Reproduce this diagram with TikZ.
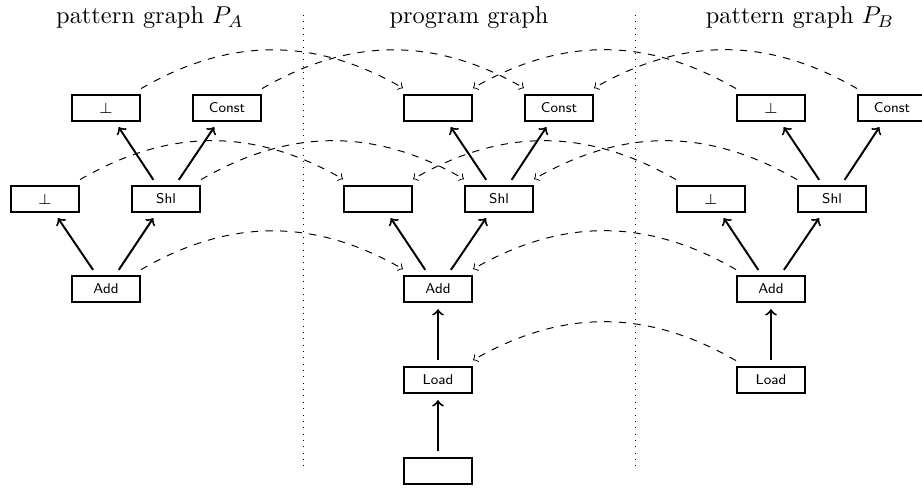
\documentclass[tikz,border=0pt]{standalone}
\begin{document}
\begin{tikzpicture}[x=0.41pt,y=-0.41pt,
  box/.style={draw, line width=0.8pt, minimum width=27.9pt, minimum height=10.7pt, inner sep=0pt,
    font=\sffamily\fontsize{5.8}{6.5}\selectfont},
  arr/.style={->, line width=0.8pt, shorten <=2.5pt, shorten >=2.5pt},
  mapl/.style={->, dashed, line width=0.4pt, bend left=30},
  mapr/.style={->, dashed, line width=0.4pt, bend right=30},
  sep/.style={line width=0.4pt, dash pattern=on 0.4pt off 2.2pt},
  ttl/.style={anchor=base}]
\useasboundingbox (0,0) rectangle (922,488);
% titles
\node[ttl] (tA) at (150,24) {pattern graph $P_A$};
\node[ttl] (tP) at (469,24) {program graph};
\node[ttl] (tB) at (800,24) {pattern graph $P_B$};
% separators
\coordinate (s1a) at (303,15); \coordinate (s1b) at (303,470);
\coordinate (s2a) at (635,15); \coordinate (s2b) at (635,470);
\draw[sep] (s1a) -- (s1b);
\draw[sep] (s2a) -- (s2b);
% left pattern
\node[box] (aBotT) at (106,108) {$\bot$};
\node[box] (aConst) at (227,108) {Const};
\node[box] (aBotM) at (45,199) {$\bot$};
\node[box] (aShl) at (166,199) {Shl};
\node[box] (aAdd) at (106,289) {Add};
% program
\node[box] (pTop) at (438,108) {};
\node[box] (pConst) at (559,108) {Const};
\node[box] (pMid) at (378,199) {};
\node[box] (pShl) at (499,199) {Shl};
\node[box] (pAdd) at (438,289) {Add};
\node[box] (pLoad) at (438,380) {Load};
\node[box] (pBot) at (438,471) {};
% right pattern
\node[box] (bBotT) at (771,108) {$\bot$};
\node[box] (bConst) at (892,108) {Const};
\node[box] (bBotM) at (711,199) {$\bot$};
\node[box] (bShl) at (832,199) {Shl};
\node[box] (bAdd) at (771,289) {Add};
\node[box] (bLoad) at (771,380) {Load};
% solid edges
\draw[arr] (aAdd) -- (aBotM);
\draw[arr] (aAdd) -- (aShl);
\draw[arr] (aShl) -- (aBotT);
\draw[arr] (aShl) -- (aConst);
\draw[arr] (pAdd) -- (pMid);
\draw[arr] (pAdd) -- (pShl);
\draw[arr] (pShl) -- (pTop);
\draw[arr] (pShl) -- (pConst);
\draw[arr] (pLoad) -- (pAdd);
\draw[arr] (pBot) -- (pLoad);
\draw[arr] (bAdd) -- (bBotM);
\draw[arr] (bAdd) -- (bShl);
\draw[arr] (bShl) -- (bBotT);
\draw[arr] (bShl) -- (bConst);
\draw[arr] (bLoad) -- (bAdd);
% mappings from P_A
\draw[mapl] ([yshift=2.2pt]aBotT.north east) to ([yshift=2.4pt]pTop.north west);
\draw[mapl] ([yshift=2.2pt]aConst.north east) to ([yshift=2.4pt]pConst.north west);
\draw[mapl] ([yshift=2.2pt]aBotM.north east) to ([yshift=2.4pt]pMid.north west);
\draw[mapl] ([yshift=2.2pt]aShl.north east) to ([yshift=2.4pt]pShl.north west);
\draw[mapl] ([yshift=2.2pt]aAdd.north east) to ([yshift=2.4pt]pAdd.north west);
% mappings from P_B
\draw[mapr] ([yshift=2.2pt]bBotT.north west) to ([yshift=2.4pt]pTop.north east);
\draw[mapr] ([yshift=2.2pt]bConst.north west) to ([yshift=2.4pt]pConst.north east);
\draw[mapr] ([yshift=2.2pt]bBotM.north west) to ([yshift=2.4pt]pMid.north east);
\draw[mapr] ([yshift=2.2pt]bShl.north west) to ([yshift=2.4pt]pShl.north east);
\draw[mapr] ([yshift=2.2pt]bAdd.north west) to ([yshift=2.4pt]pAdd.north east);
\draw[mapr] ([yshift=2.2pt]bLoad.north west) to ([yshift=2.4pt]pLoad.north east);
\end{tikzpicture}
\end{document}
